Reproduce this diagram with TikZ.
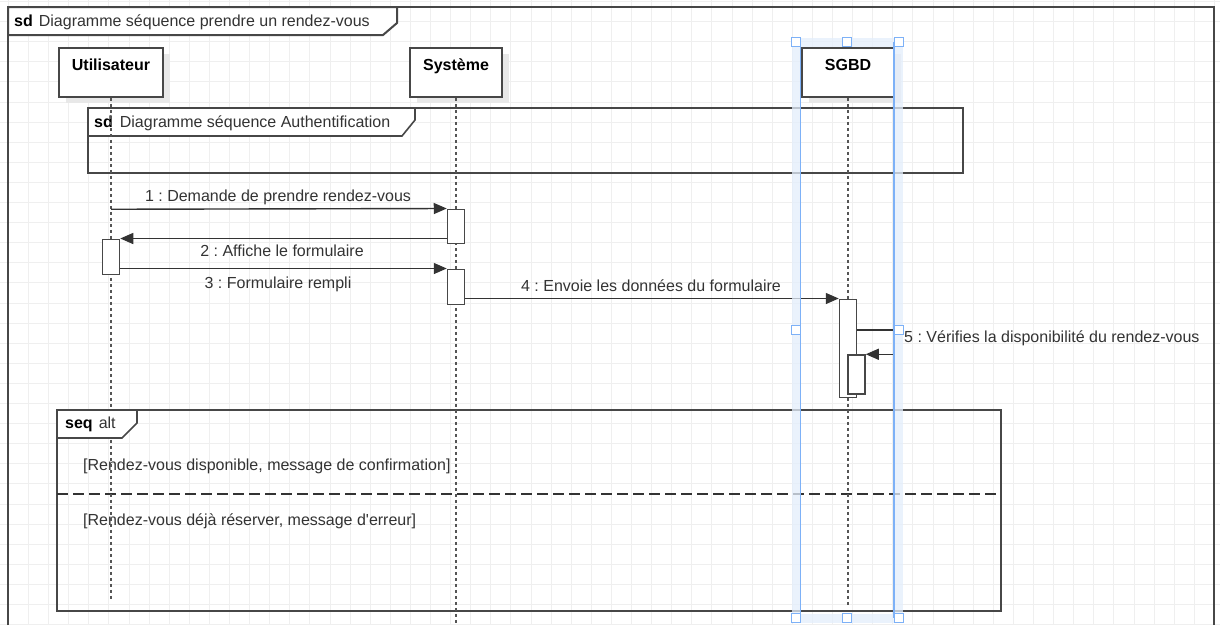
\documentclass[tikz,border=0pt]{standalone}
\usepackage{fontspec}
\setmainfont{Liberation Sans}
\usetikzlibrary{arrows.meta,shadows}

\definecolor{framecol}{HTML}{474747}
\definecolor{txtcol}{HTML}{333333}
\definecolor{gridcol}{HTML}{EFEFEF}
\definecolor{lifecol}{HTML}{555555}
\definecolor{selblue}{HTML}{7DB1F7}
\definecolor{selglow}{HTML}{E4EEFC}

\tikzset{
  frameline/.style={draw=framecol, line width=1.6pt},
  framelabel/.style={draw=framecol, line width=1.6pt, fill=white},
  participant/.style={draw=framecol, line width=1.6pt, fill=white,
    minimum width=92pt, inner xsep=0pt, inner ysep=5pt,
    text height=17pt, text depth=22pt,
    font=\fontsize{16}{19}\selectfont\bfseries,
    drop shadow={shadow xshift=7pt, shadow yshift=-6pt, fill=black!9, opacity=1}},
  actbox/.style={draw=framecol, line width=1.5pt, fill=white,
    minimum width=17pt, inner sep=0pt},
  lifeline/.style={draw=lifecol, line width=1.6pt, dash pattern=on 3pt off 3pt},
  msg/.style={draw=txtcol, line width=1.4pt, -{Triangle[length=13pt,width=11pt]}},
  msgtext/.style={text=txtcol, inner sep=0pt, anchor=base},
  guardtext/.style={text=txtcol, inner sep=0pt, anchor=base west},
  handle/.style={draw=selblue, line width=1.5pt, fill=white,
    minimum size=9pt, inner sep=0pt},
}

\begin{document}
\frenchspacing
\begin{tikzpicture}[x=1pt, y=-1pt, font=\fontsize{16}{19}\selectfont]
\useasboundingbox (0,0) rectangle (1220,625);
\fill[white] (0,0) rectangle (1220,625);

% background grid
\foreach \i in {0,...,60} {
  \draw[gridcol, line width=1pt] ({8.4+20.1*\i},0) -- ++(0,625);
}
\foreach \j in {0,...,31} {
  \draw[gridcol, line width=1pt] (0,{1.5+20.1*\j}) -- ++(1220,0);
}

% outer sd frame
\draw[framecol, line width=2pt] (8,625) -- (8,7) -- (1214,7) -- (1214,625);
\draw[framelabel, line width=2pt] (8,7) -- (397,7) -- (397,23) -- (383,35) -- (8,35) -- cycle;
\node[anchor=base west, inner sep=0pt, text=txtcol] (outerlbl) at (14,26.7)
  {\textcolor{black}{\bfseries sd}\hspace{6pt}Diagramme séquence prendre un rendez-vous};

% referenced authentication frame
\draw[frameline] (88,108) rectangle (963,173);
\draw[framelabel] (88,108) -- (415,108) -- (415,120) -- (402,136) -- (88,136) -- cycle;
\node[anchor=base west, inner sep=0pt, text=txtcol] (authlbl) at (94,127.5)
  {\textcolor{black}{\bfseries sd}\hspace{7pt}Diagramme séquence Authentification};

% alt combined fragment
\draw[frameline] (57,410) rectangle (1001,611);
\draw[draw=black!80, line width=1.5pt, dash pattern=on 11pt off 5pt] (57,494) -- (1001,494);
\node[guardtext] (guard1) at (83,470.7) {[Rendez-vous disponible, message de confirmation]};
\node[guardtext] (guard2) at (83,525) {[Rendez-vous déjà réserver, message d\textquotesingle erreur]};

% participants
\node[participant, minimum width=104pt] (user) at (111,72.5) {Utilisateur};
\node[participant] (sys) at (456,72.5) {Système};
\node[participant] (db) at (848,72.5) {SGBD};

% lifelines
\draw[lifeline] (user.south) -- (111,600);
\draw[lifeline] (sys.south) -- (456,625);
\draw[lifeline] (db.south) -- (848,606);

% alt fragment label
\draw[framelabel] (57,410) -- (137,410) -- (137,423) -- (122,438) -- (57,438) -- cycle;
\node[anchor=base west, inner sep=0pt, text=txtcol] (altlbl) at (65,428.5)
  {\textcolor{black}{\bfseries seq}\hspace{6pt}alt};

% activation bars
\node[actbox, minimum height=34pt] (act1) at (456,226.25) {};
\node[actbox, minimum height=35pt] (actU) at (111,256.75) {};
\node[actbox, minimum height=35pt] (act2) at (456,286.75) {};
\node[actbox, minimum height=98pt] (actS) at (848,348.25) {};
\node[actbox, minimum height=39pt] (actS2) at (856.5,374.5) {};

% messages
\coordinate (m1s) at (111,209.25);
\draw[msg] (m1s) -- (act1.north west);
\node[msgtext] (t1) at (278,201) {1 : Demande de prendre rendez-vous};

\draw[msg] (act1.west |- actU.north) -- (actU.north east);
\node[msgtext] (t2) at (282,256.7) {2 : Affiche le formulaire};

\draw[msg] (actU.east |- act2.north) -- (act2.north west);
\node[msgtext] (t3) at (278,288.3) {3 : Formulaire rempli};

\draw[msg] (act2.east |- actS.north) -- (actS.north west);
\node[msgtext] (t4) at (651,291.7) {4 : Envoie les données du formulaire};

\coordinate (m5turn) at (894,330);
\draw[msg] (actS.east |- m5turn) -- (m5turn) |- (actS2.north east);
\node[guardtext] (t5) at (904,342.3) {5 : Vérifies la disponibilité du rendez-vous};

% selection outline around the SGBD lifeline
\draw[selglow, line width=9pt, opacity=0.75] (796.5,42) rectangle (898.5,618);
\draw[selblue, line width=1.5pt] (800.5,42) -- (800.5,618);
\draw[selblue, line width=1.5pt] (894,42) -- (894,618);
\foreach \hx/\hy/\hn in {796/42/a, 847/42/b, 899/42/c, 796/330/d, 899/330/e, 796/618/f, 847/618/g, 899/618/h} {
  \node[handle] (handle\hn) at (\hx,\hy) {};
}
\end{tikzpicture}
\end{document}
